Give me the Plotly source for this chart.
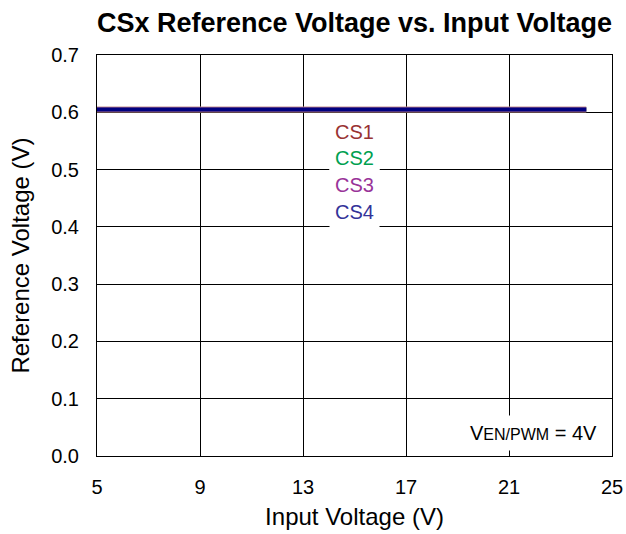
import plotly.graph_objects as go

vin = [5, 6, 7, 8, 9, 10, 11, 12, 13, 14, 15, 16, 17, 18, 19, 20, 21, 22, 23, 24]
cs1 = [0.605] * 20
cs2 = [0.605] * 20
cs3 = [0.605] * 20
cs4 = [0.605] * 20
names = ["CS1", "CS2", "CS3", "CS4"]
line_colors = ["#c49090", "#009050", "#993399", "#000080"]
text_colors = ["#993333", "#00a050", "#993399", "#333399"]
widths = [6, 5, 4.5, 3.5]
label_y = [0.566, 0.520, 0.473, 0.426]

FONT = "Liberation Sans, Arial, sans-serif"

fig = go.Figure()
for name, ys, c, w in zip(names, [cs1, cs2, cs3, cs4], line_colors, widths):
    fig.add_trace(go.Scatter(x=vin, y=ys, mode="lines", name=name,
                             line=dict(color=c, width=w), showlegend=False))

for name, c, yv in zip(names, text_colors, label_y):
    fig.add_annotation(x=15, y=yv, text=name, showarrow=False,
                       font=dict(size=20, color=c, family=FONT),
                       bgcolor="white", borderpad=5, xanchor="center", yanchor="middle")

fig.add_annotation(x=0.984, y=0.04, xref="paper", yref="y",
                   text="V<span style='font-size:16px'>EN/PWM</span> = 4V",
                   showarrow=False, xanchor="right", yanchor="middle",
                   font=dict(size=20, color="black", family=FONT),
                   bgcolor="white", borderpad=6)

axis_common = dict(showline=True, linecolor="black", linewidth=1, mirror=True,
                   showgrid=True, gridcolor="black", gridwidth=1,
                   ticks="outside", ticklen=13, tickcolor="rgba(0,0,0,0)",
                   tickfont=dict(size=20, color="black", family=FONT),
                   zeroline=False, automargin=False)

fig.update_layout(
    width=626, height=534, autosize=False,
    margin=dict(l=97, r=14, t=55, b=78),
    paper_bgcolor="white", plot_bgcolor="white",
    title=dict(text="<b>CSx Reference Voltage vs. Input Voltage</b>",
               xref="paper", x=0.5, xanchor="center",
               yref="container", y=0.958, yanchor="middle",
               font=dict(size=27, color="black", family=FONT)),
    xaxis=dict(range=[5, 25], dtick=4, tick0=5,
               title=dict(text="Input Voltage (V)", standoff=11,
                          font=dict(size=24, color="black", family=FONT)),
               **axis_common),
    yaxis=dict(range=[0, 0.7], dtick=0.1, tickformat=".1f",
               title=dict(text="Reference Voltage (V)", standoff=14,
                          font=dict(size=24, color="black", family=FONT)),
               **axis_common),
)

fig.write_html("out.html",
               config={"displayModeBar": False, "responsive": False},
               post_script="document.body.style.margin='0';document.body.style.overflow='hidden';")
